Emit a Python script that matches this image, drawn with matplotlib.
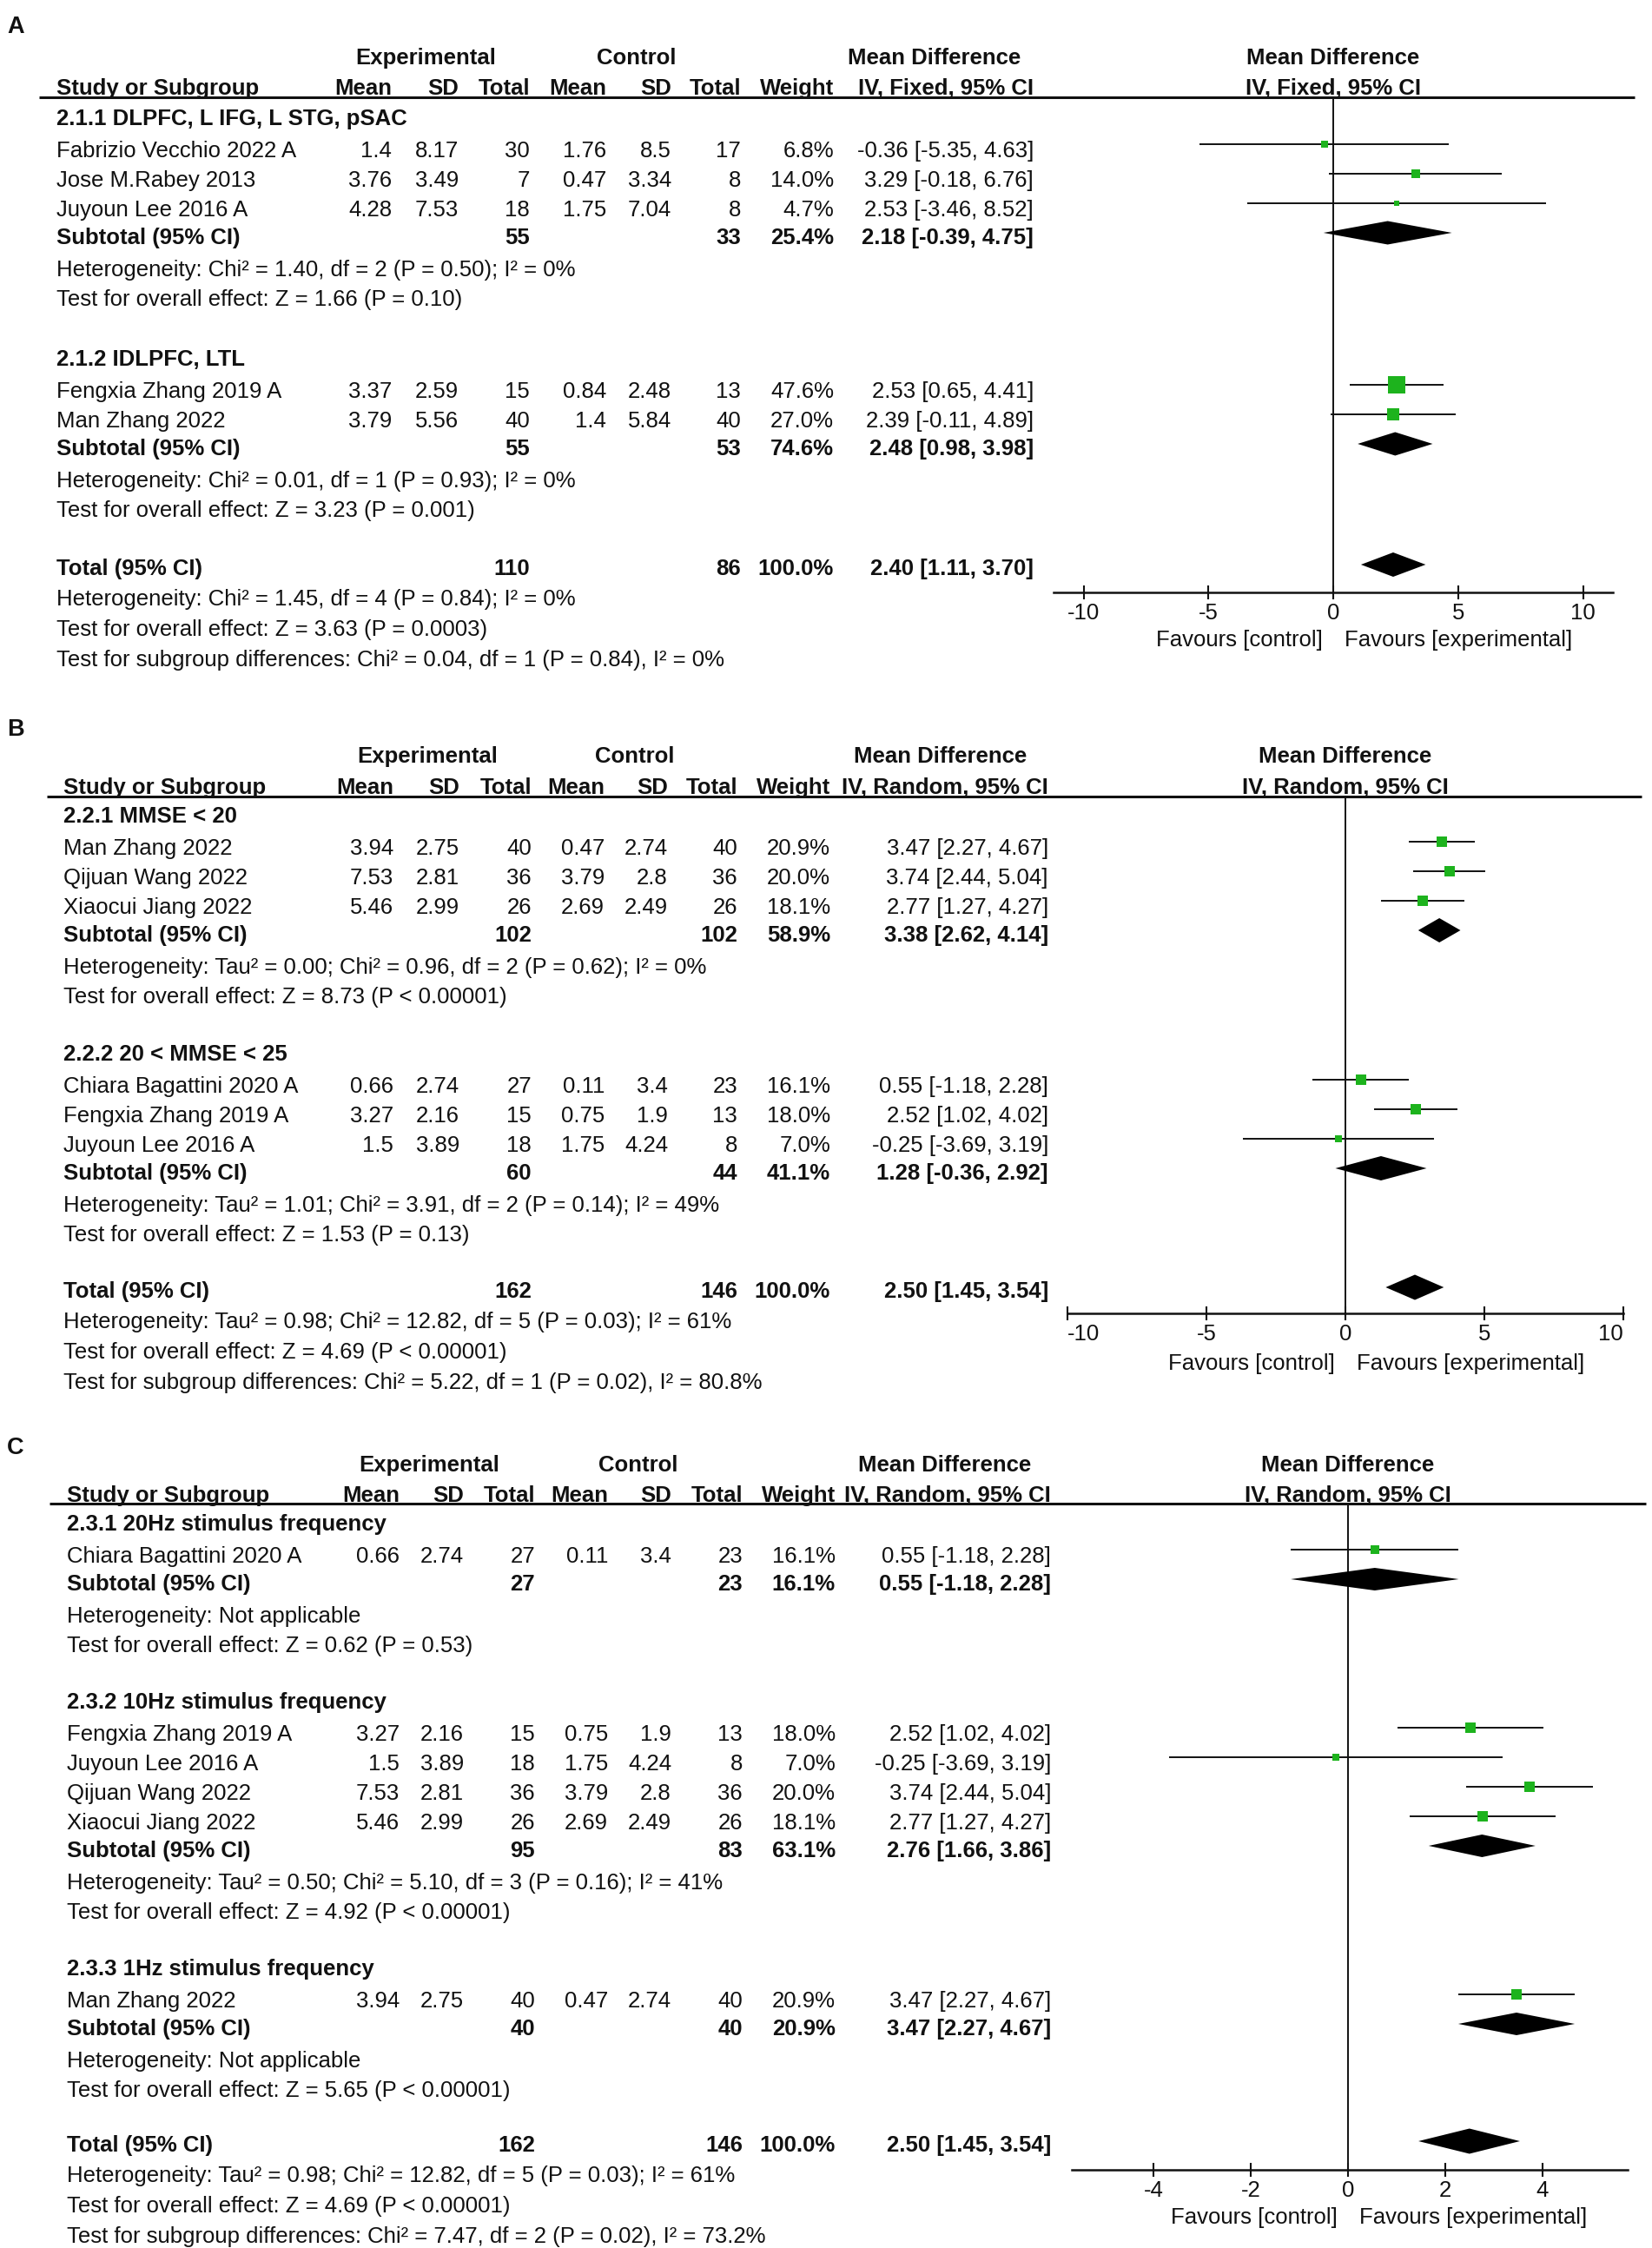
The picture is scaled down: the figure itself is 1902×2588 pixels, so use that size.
import matplotlib
matplotlib.use('Agg')
import math
import matplotlib.pyplot as plt

plt.rcParams['font.family'] = ['Liberation Sans', 'DejaVu Sans']

W, H = 1902, 2588
FS = 18.5
BL = 0.36 * FS * 100 / 72  # baseline offset (px) from visual centre
INK = '#111111'
GREEN = '#1db31d'
MARK_DY = -6   # marks sit a little above the text centre in RevMan output

# ---------------------------------------------------------------- panel A data
A_GROUPS = ['2.1.1 DLPFC, L IFG, L STG, pSAC', '2.1.2 IDLPFC, LTL']
A_STUDY = ['Fabrizio Vecchio 2022 A', 'Jose M.Rabey 2013', 'Juyoun Lee 2016 A',
           'Fengxia Zhang 2019 A', 'Man Zhang 2022']
A_GROUP_OF = [0, 0, 0, 1, 1]
A_EXP_MEAN = [1.4, 3.76, 4.28, 3.37, 3.79]
A_EXP_SD = [8.17, 3.49, 7.53, 2.59, 5.56]
A_EXP_N = [30, 7, 18, 15, 40]
A_CTL_MEAN = [1.76, 0.47, 1.75, 0.84, 1.4]
A_CTL_SD = [8.5, 3.34, 7.04, 2.48, 5.84]
A_CTL_N = [17, 8, 8, 13, 40]
A_WEIGHT = [6.8, 14.0, 4.7, 47.6, 27.0]
A_MD = [-0.36, 3.29, 2.53, 2.53, 2.39]
A_LO = [-5.35, -0.18, -3.46, 0.65, -0.11]
A_HI = [4.63, 6.76, 8.52, 4.41, 4.89]
A_SUB_EXP_N = [55, 55]
A_SUB_CTL_N = [33, 53]
A_SUB_WEIGHT = [25.4, 74.6]
A_SUB_MD = [2.18, 2.48]
A_SUB_LO = [-0.39, 0.98]
A_SUB_HI = [4.75, 3.98]
A_SUB_HET = ['Heterogeneity: Chi² = 1.40, df = 2 (P = 0.50); I² = 0%',
             'Heterogeneity: Chi² = 0.01, df = 1 (P = 0.93); I² = 0%']
A_SUB_Z = ['Test for overall effect: Z = 1.66 (P = 0.10)',
           'Test for overall effect: Z = 3.23 (P = 0.001)']
A_TOT_N = [110, 86]
A_TOT_EST = [2.40, 1.11, 3.70]
A_FOOT = ['Heterogeneity: Chi² = 1.45, df = 4 (P = 0.84); I² = 0%',
          'Test for overall effect: Z = 3.63 (P = 0.0003)',
          'Test for subgroup differences: Chi² = 0.04, df = 1 (P = 0.84), I² = 0%']

# ---------------------------------------------------------------- panel B data
B_GROUPS = ['2.2.1 MMSE < 20', '2.2.2 20 < MMSE < 25']
B_STUDY = ['Man Zhang 2022', 'Qijuan Wang 2022', 'Xiaocui Jiang 2022',
           'Chiara Bagattini 2020 A', 'Fengxia Zhang 2019 A', 'Juyoun Lee 2016 A']
B_GROUP_OF = [0, 0, 0, 1, 1, 1]
B_EXP_MEAN = [3.94, 7.53, 5.46, 0.66, 3.27, 1.5]
B_EXP_SD = [2.75, 2.81, 2.99, 2.74, 2.16, 3.89]
B_EXP_N = [40, 36, 26, 27, 15, 18]
B_CTL_MEAN = [0.47, 3.79, 2.69, 0.11, 0.75, 1.75]
B_CTL_SD = [2.74, 2.8, 2.49, 3.4, 1.9, 4.24]
B_CTL_N = [40, 36, 26, 23, 13, 8]
B_WEIGHT = [20.9, 20.0, 18.1, 16.1, 18.0, 7.0]
B_MD = [3.47, 3.74, 2.77, 0.55, 2.52, -0.25]
B_LO = [2.27, 2.44, 1.27, -1.18, 1.02, -3.69]
B_HI = [4.67, 5.04, 4.27, 2.28, 4.02, 3.19]
B_SUB_EXP_N = [102, 60]
B_SUB_CTL_N = [102, 44]
B_SUB_WEIGHT = [58.9, 41.1]
B_SUB_MD = [3.38, 1.28]
B_SUB_LO = [2.62, -0.36]
B_SUB_HI = [4.14, 2.92]
B_SUB_HET = ['Heterogeneity: Tau² = 0.00; Chi² = 0.96, df = 2 (P = 0.62); I² = 0%',
             'Heterogeneity: Tau² = 1.01; Chi² = 3.91, df = 2 (P = 0.14); I² = 49%']
B_SUB_Z = ['Test for overall effect: Z = 8.73 (P < 0.00001)',
           'Test for overall effect: Z = 1.53 (P = 0.13)']
B_TOT_N = [162, 146]
B_TOT_EST = [2.50, 1.45, 3.54]
B_FOOT = ['Heterogeneity: Tau² = 0.98; Chi² = 12.82, df = 5 (P = 0.03); I² = 61%',
          'Test for overall effect: Z = 4.69 (P < 0.00001)',
          'Test for subgroup differences: Chi² = 5.22, df = 1 (P = 0.02), I² = 80.8%']

# ---------------------------------------------------------------- panel C data
C_GROUPS = ['2.3.1 20Hz stimulus frequency', '2.3.2 10Hz stimulus frequency',
            '2.3.3 1Hz stimulus frequency']
C_STUDY = ['Chiara Bagattini 2020 A', 'Fengxia Zhang 2019 A', 'Juyoun Lee 2016 A',
           'Qijuan Wang 2022', 'Xiaocui Jiang 2022', 'Man Zhang 2022']
C_GROUP_OF = [0, 1, 1, 1, 1, 2]
C_EXP_MEAN = [0.66, 3.27, 1.5, 7.53, 5.46, 3.94]
C_EXP_SD = [2.74, 2.16, 3.89, 2.81, 2.99, 2.75]
C_EXP_N = [27, 15, 18, 36, 26, 40]
C_CTL_MEAN = [0.11, 0.75, 1.75, 3.79, 2.69, 0.47]
C_CTL_SD = [3.4, 1.9, 4.24, 2.8, 2.49, 2.74]
C_CTL_N = [23, 13, 8, 36, 26, 40]
C_WEIGHT = [16.1, 18.0, 7.0, 20.0, 18.1, 20.9]
C_MD = [0.55, 2.52, -0.25, 3.74, 2.77, 3.47]
C_LO = [-1.18, 1.02, -3.69, 2.44, 1.27, 2.27]
C_HI = [2.28, 4.02, 3.19, 5.04, 4.27, 4.67]
C_SUB_EXP_N = [27, 95, 40]
C_SUB_CTL_N = [23, 83, 40]
C_SUB_WEIGHT = [16.1, 63.1, 20.9]
C_SUB_MD = [0.55, 2.76, 3.47]
C_SUB_LO = [-1.18, 1.66, 2.27]
C_SUB_HI = [2.28, 3.86, 4.67]
C_SUB_HET = ['Heterogeneity: Not applicable',
             'Heterogeneity: Tau² = 0.50; Chi² = 5.10, df = 3 (P = 0.16); I² = 41%',
             'Heterogeneity: Not applicable']
C_SUB_Z = ['Test for overall effect: Z = 0.62 (P = 0.53)',
           'Test for overall effect: Z = 4.92 (P < 0.00001)',
           'Test for overall effect: Z = 5.65 (P < 0.00001)']
C_TOT_N = [162, 146]
C_TOT_EST = [2.50, 1.45, 3.54]
C_FOOT = ['Heterogeneity: Tau² = 0.98; Chi² = 12.82, df = 5 (P = 0.03); I² = 61%',
          'Test for overall effect: Z = 4.69 (P < 0.00001)',
          'Test for subgroup differences: Chi² = 7.47, df = 2 (P = 0.02), I² = 73.2%']

# ---------------------------------------------------------------- layout (pixels)
A_LAYOUT = dict(label='A', label_y=29, head1=65, head2=100, rule=112, rule_x=(45, 1882),
                groups_y=[135, 412], total_y=653, axis_y=682,
                study_x=65, cols=[451, 528, 610, 698, 773, 853, 960, 1190],
                exp_c=490, ctl_c=733, md_c=1076, method='IV, Fixed, 95% CI',
                forest_px=(1213, 1857), xlim=(-11.2, 11.2), ticks=[-10, -5, 0, 5, 10],
                end_labels_inside=False, sq_k=2.8, dia_h=13.5, tot_h=14, fav_dy=53)
B_LAYOUT = dict(label='B', label_y=838, head1=869, head2=905, rule=917, rule_x=(54, 1890),
                groups_y=[938, 1212], total_y=1485, axis_y=1512,
                study_x=73, cols=[453, 529, 612, 696, 769, 849, 956, 1207],
                exp_c=492, ctl_c=731, md_c=1083, method='IV, Random, 95% CI',
                forest_px=(1229, 1869), xlim=(-10, 10), ticks=[-10, -5, 0, 5, 10],
                end_labels_inside=True, sq_k=2.8, dia_h=14, tot_h=14.5, fav_dy=56)
C_LAYOUT = dict(label='C', label_y=1665, head1=1685, head2=1720, rule=1731, rule_x=(57, 1895),
                groups_y=[1753, 1958, 2265], total_y=2468, axis_y=2498,
                study_x=77, cols=[460, 534, 616, 700, 773, 855, 962, 1210],
                exp_c=494, ctl_c=735, md_c=1088, method='IV, Random, 95% CI',
                forest_px=(1234, 1874), xlim=(-5.69, 5.76), ticks=[-4, -2, 0, 2, 4],
                end_labels_inside=False, sq_k=2.7, dia_h=13, tot_h=14.5, fav_dy=53)

fig = plt.figure(figsize=(W / 100, H / 100), dpi=100)
fig.patch.set_facecolor('white')
overlay = fig.add_axes([0, 0, 1, 1])
overlay.set_xlim(0, W)
overlay.set_ylim(H, 0)
overlay.axis('off')


def put(x, y, s, ha='left', bold=False, size=FS):
    overlay.text(x, y + BL, s, ha=ha, va='baseline', fontsize=size,
                 fontweight='bold' if bold else 'normal', color=INK)


def num(v):
    return '%g' % v


def ci_text(md, lo, hi):
    return '%.2f [%.2f, %.2f]' % (md, lo, hi)


def draw_panel(lay, groups, study, group_of, exp_mean, exp_sd, exp_n, ctl_mean, ctl_sd, ctl_n,
               weight, md, lo, hi, sub_en, sub_cn, sub_w, sub_md, sub_lo, sub_hi,
               sub_het, sub_z, tot_n, tot_est, foot):
    cols = lay['cols']
    sx = lay['study_x']

    # panel letter and headers
    put(8, lay['label_y'], lay['label'], bold=True, size=19.5)
    put(lay['exp_c'], lay['head1'], 'Experimental', ha='center', bold=True)
    put(lay['ctl_c'], lay['head1'], 'Control', ha='center', bold=True)
    put(lay['md_c'], lay['head1'], 'Mean Difference', ha='center', bold=True)
    put(sx, lay['head2'], 'Study or Subgroup', bold=True)
    for c, s in zip(cols, ['Mean', 'SD', 'Total', 'Mean', 'SD', 'Total', 'Weight', lay['method']]):
        put(c, lay['head2'], s, ha='right', bold=True)
    overlay.plot(lay['rule_x'], [lay['rule'], lay['rule']], color=INK, lw=2.2,
                 solid_capstyle='butt')

    # forest axes, y in the same pixel units as the table
    fx0, fx1 = lay['forest_px']
    top, bot = lay['rule'], lay['axis_y']
    ax = fig.add_axes([fx0 / W, 1 - bot / H, (fx1 - fx0) / W, (bot - top) / H])
    ax.set_xlim(*lay['xlim'])
    ax.set_ylim(bot, top)
    ax.patch.set_alpha(0)
    for s in ['top', 'left', 'right']:
        ax.spines[s].set_visible(False)
    ax.spines['bottom'].set_linewidth(1.8)
    ax.spines['bottom'].set_color(INK)
    ax.set_yticks([])
    ax.set_xticks(lay['ticks'])
    ax.set_xticklabels([str(t) for t in lay['ticks']])
    ax.tick_params(axis='x', direction='inout', length=11, width=1.5, labelsize=FS,
                   pad=3, colors=INK)
    if lay['end_labels_inside']:
        tl = ax.get_xticklabels()
        tl[0].set_ha('left')
        tl[-1].set_ha('right')
    ax.axvline(0, color=INK, lw=1.4, zorder=1)
    ax.text(0, lay['head1'] + BL, 'Mean Difference', ha='center', va='baseline',
            fontsize=FS, fontweight='bold', color=INK)
    ax.text(0, lay['head2'] + BL, lay['method'], ha='center', va='baseline',
            fontsize=FS, fontweight='bold', color=INK)
    fy = bot + lay['fav_dy'] + BL
    ax.annotate('Favours [control]', xy=(0, fy), xytext=(-9, 0), textcoords='offset points',
                ha='right', va='baseline', fontsize=FS, color=INK, annotation_clip=False)
    ax.annotate('Favours [experimental]', xy=(0, fy), xytext=(9, 0), textcoords='offset points',
                ha='left', va='baseline', fontsize=FS, color=INK, annotation_clip=False)

    h = lay['dia_h']
    for g, gy in enumerate(lay['groups_y']):
        put(sx, gy, groups[g], bold=True)
        idx = [i for i, k in enumerate(group_of) if k == g]
        y = gy + 36.5
        for i in idx:
            cells = [num(exp_mean[i]), num(exp_sd[i]), str(exp_n[i]), num(ctl_mean[i]),
                     num(ctl_sd[i]), str(ctl_n[i]), '%.1f%%' % weight[i],
                     ci_text(md[i], lo[i], hi[i])]
            put(sx, y, study[i])
            for c, s in zip(cols, cells):
                put(c, y, s, ha='right')
            my = y + MARK_DY
            ax.hlines(my, lo[i], hi[i], color=INK, lw=1.4, zorder=2)
            side = lay['sq_k'] * math.sqrt(weight[i])
            ax.plot(md[i], my, 's', ms=side * 0.72, color=GREEN, mec=GREEN, mew=0, zorder=3)
            y += 34
        y -= 1.5
        put(sx, y, 'Subtotal (95% CI)', bold=True)
        put(cols[2], y, str(sub_en[g]), ha='right', bold=True)
        put(cols[5], y, str(sub_cn[g]), ha='right', bold=True)
        put(cols[6], y, '%.1f%%' % sub_w[g], ha='right', bold=True)
        put(cols[7], y, ci_text(sub_md[g], sub_lo[g], sub_hi[g]), ha='right', bold=True)
        my = y + MARK_DY + 2
        ax.fill([sub_lo[g], sub_md[g], sub_hi[g], sub_md[g]], [my, my - h, my, my + h],
                color='black', lw=0, zorder=3)
        put(sx, y + 37, sub_het[g])
        put(sx, y + 71, sub_z[g])

    ty = lay['total_y']
    put(sx, ty, 'Total (95% CI)', bold=True)
    put(cols[2], ty, str(tot_n[0]), ha='right', bold=True)
    put(cols[5], ty, str(tot_n[1]), ha='right', bold=True)
    put(cols[6], ty, '100.0%', ha='right', bold=True)
    put(cols[7], ty, ci_text(*tot_est), ha='right', bold=True)
    th = lay['tot_h']
    my = ty - 3
    ax.fill([tot_est[1], tot_est[0], tot_est[2], tot_est[0]], [my, my - th, my, my + th],
            color='black', lw=0, zorder=3)
    for k, s in enumerate(foot):
        put(sx, ty + 35 * (k + 1), s)


draw_panel(A_LAYOUT, A_GROUPS, A_STUDY, A_GROUP_OF, A_EXP_MEAN, A_EXP_SD, A_EXP_N,
           A_CTL_MEAN, A_CTL_SD, A_CTL_N, A_WEIGHT, A_MD, A_LO, A_HI,
           A_SUB_EXP_N, A_SUB_CTL_N, A_SUB_WEIGHT, A_SUB_MD, A_SUB_LO, A_SUB_HI,
           A_SUB_HET, A_SUB_Z, A_TOT_N, A_TOT_EST, A_FOOT)
draw_panel(B_LAYOUT, B_GROUPS, B_STUDY, B_GROUP_OF, B_EXP_MEAN, B_EXP_SD, B_EXP_N,
           B_CTL_MEAN, B_CTL_SD, B_CTL_N, B_WEIGHT, B_MD, B_LO, B_HI,
           B_SUB_EXP_N, B_SUB_CTL_N, B_SUB_WEIGHT, B_SUB_MD, B_SUB_LO, B_SUB_HI,
           B_SUB_HET, B_SUB_Z, B_TOT_N, B_TOT_EST, B_FOOT)
draw_panel(C_LAYOUT, C_GROUPS, C_STUDY, C_GROUP_OF, C_EXP_MEAN, C_EXP_SD, C_EXP_N,
           C_CTL_MEAN, C_CTL_SD, C_CTL_N, C_WEIGHT, C_MD, C_LO, C_HI,
           C_SUB_EXP_N, C_SUB_CTL_N, C_SUB_WEIGHT, C_SUB_MD, C_SUB_LO, C_SUB_HI,
           C_SUB_HET, C_SUB_Z, C_TOT_N, C_TOT_EST, C_FOOT)

fig.savefig('out.png', dpi=100)
